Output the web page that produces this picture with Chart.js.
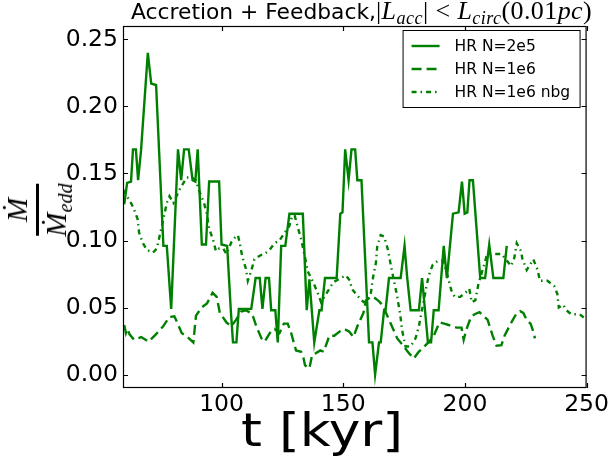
<!DOCTYPE html>
<html><head><meta charset="utf-8">
<script src="https://cdn.jsdelivr.net/npm/chart.js@4.4.1/dist/chart.umd.min.js"></script>
<style>
html,body{margin:0;padding:0;background:#fff;}
#wrap{position:relative;width:612px;height:456px;overflow:hidden;background:#fff;}
#c{position:absolute;left:0;top:0;}
#title{position:absolute;left:131px;top:-3px;white-space:nowrap;font-family:'DejaVu Sans';font-size:21.8px;line-height:28px;color:#000;}
.m{font-family:'Liberation Serif',serif;font-size:26px;letter-spacing:0.4px;}
.m sub{font-size:0.7em;vertical-align:-0.3em;line-height:0;}
#xlab{position:absolute;left:241px;top:402px;white-space:nowrap;font-family:'DejaVu Sans';font-size:46px;line-height:56px;color:#000;transform:scaleX(1.16);transform-origin:0 0;}
#ylab{position:absolute;left:37px;top:210px;transform:translate(-50%,-50%) rotate(-90deg);display:flex;flex-direction:column;align-items:center;font-family:'Liberation Serif',serif;font-size:29px;line-height:1;color:#000;}
#ylab .bar{width:52px;height:3px;background:#000;margin:4px 0 3px 0;}
#ylab sub{font-size:0.7em;vertical-align:-0.3em;line-height:0;}
</style></head>
<body>
<div id="wrap">
<canvas id="c" width="612" height="456"></canvas>
<div id="title">Accretion + Feedback,<span class="m">|<i>L</i><sub><i>acc</i></sub>| &lt; <i>L</i><sub><i>circ</i></sub>(0.01<i>pc</i>)</span></div>
<div id="xlab">t [kyr]</div>
<div id="ylab"><div><i>Ṁ</i></div><div class="bar"></div><div><i>Ṁ</i><sub><i>edd</i></sub></div></div>
</div>
<script>
const seriesLabels = ['HR N=2e5', 'HR N=1e6', 'HR N=1e6 nbg'];
const xTicks = [100, 150, 200, 250];
const yTicks = [0, 0.05, 0.10, 0.15, 0.20, 0.25];

const solidT = [60,61.2,62.8,63.6,64.8,65.7,66.9,69.7,71.1,73.1,76.1,77.5,79.3,82.1,83.4,84.6,86.5,88.1,89.2,90.2,91.9,93.6,94.9,99.0,100.0,102.3,103.8,104.7,106.1,107.1,112.2,114,115.7,116.8,118.1,119.5,120.4,122.1,123.1,124.5,126.2,127.9,133.4,135,136.1,138.1,140.2,141.1,142.5,147.3,148.8,149.7,150.8,152.2,153.4,154.9,155.8,157.5,160.6,162,163.1,164.7,165.4,166.8,167.4,168.8,173.6,175.2,176.3,177.7,181.1,182.4,184.8,186.1,187.2,189.2,191.3,192.6,195.1,197.4,198.8,199.9,201.0,201.9,203.3,206.3,208.3,210,211.7,215.8,217.2];
const solidV = [0.127,0.143,0.144,0.168,0.168,0.145,0.167,0.240,0.217,0.216,0.096,0.096,0.049,0.168,0.145,0.168,0.168,0.145,0.144,0.168,0.097,0.097,0.144,0.144,0.097,0.096,0.048,0.024,0.024,0.049,0.049,0.072,0.072,0.049,0.072,0.072,0.048,0.048,0.024,0.096,0.096,0.120,0.120,0.048,0.071,0.024,0.048,0.048,0.072,0.072,0.120,0.121,0.168,0.145,0.168,0.168,0.145,0.145,0.024,0.024,0.000,0.024,0.024,0.048,0.048,0.072,0.072,0.096,0.072,0.048,0.048,0.072,0.024,0.024,0.048,0.048,0.096,0.072,0.120,0.121,0.144,0.120,0.121,0.145,0.145,0.072,0.072,0.097,0.072,0.072,0.096];

const dashT = [60,60.7,61.3,62.2,64,67,70,73,76,78.6,80.6,82,83.6,86,88.4,89.5,91.8,94,96.3,98,99.3,102,104,106,108,110,112,113,114.3,116.4,117.7,120.2,121.8,123.8,125.6,127.2,128.6,130.6,132.7,133.6,134.3,136.1,137.2,138.8,140.6,142,144.3,146.3,148.4,150.4,152.5,154.2,155.8,158.3,159.4,161.3,162.7,164.5,166.1,168.8,172.2,174.9,177,179,181,183.1,185,187.2,189.6,191.5,193.3,196.6,198.6,199.5,200.5,202.5,204,206,207.5,209.3,211.4,213,215,216.3,219.1,221,222.7,224,225.6,227,228.1,228.8];
const dashV = [0.037,0.031,0.034,0.030,0.026,0.028,0.0245,0.030,0.036,0.043,0.0435,0.038,0.031,0.028,0.024,0.044,0.050,0.053,0.061,0.058,0.046,0.039,0.036,0.041,0.047,0.048,0.046,0.043,0.036,0.027,0.0245,0.032,0.034,0.031,0.038,0.038,0.031,0.018,0.017,0.013,0.007,0.0046,0.0145,0.016,0.018,0.017,0.029,0.029,0.032,0.034,0.032,0.028,0.036,0.046,0.0555,0.058,0.0575,0.055,0.052,0.041,0.027,0.021,0.016,0.012,0.017,0.0205,0.024,0.029,0.039,0.038,0.037,0.035,0.035,0.026,0.033,0.043,0.045,0.0465,0.044,0.041,0.029,0.0215,0.022,0.029,0.039,0.045,0.0473,0.046,0.040,0.038,0.032,0.027];

const dotT = [59.5,60.5,62.5,63.9,65.5,66.1,67.7,69.3,71.8,73.4,74.5,75.5,77.5,78.6,80.2,83,85.7,87.7,89.5,90.8,92.8,93.9,94.9,96.6,97.7,99,100.7,102,104.1,105.4,106.7,107.5,108.5,110,110.8,112.3,113.5,116,117.7,119.7,121.8,123.8,126,127.9,128.6,130,131.3,132.7,133.4,134.8,135.4,136.8,138.1,139.5,140.9,142.9,144.3,146,149,151.1,152.8,153.5,155.3,157.2,158.4,160,161.3,162.3,163.4,164,165.4,166.8,168.4,169.5,170.4,172,173.4,174.2,175.6,177.7,179.7,181.1,182.1,183.1,184.1,185.2,186.8,189,191,192.7,194.4,195.8,198.1,200.8,201.8,202.8,204.3,205.6,207.6,209,211.7,215.1,217.2,219,220.3,221.3,223.1,223.6,225.4,228.1,229.9,230.8,233.9,236.7,238,238.6,240.4,241.7,243.7,247.2,249.2,250];
const dotV = [0.138,0.135,0.129,0.124,0.116,0.106,0.098,0.093,0.091,0.094,0.103,0.111,0.128,0.133,0.128,0.139,0.147,0.147,0.145,0.137,0.128,0.120,0.109,0.100,0.092,0.094,0.094,0.090,0.099,0.102,0.104,0.098,0.088,0.079,0.070,0.078,0.086,0.089,0.090,0.093,0.098,0.100,0.106,0.111,0.116,0.119,0.110,0.101,0.095,0.083,0.077,0.072,0.067,0.061,0.054,0.060,0.064,0.069,0.072,0.074,0.070,0.064,0.060,0.056,0.054,0.055,0.060,0.073,0.083,0.096,0.104,0.103,0.093,0.082,0.074,0.060,0.045,0.033,0.021,0.021,0.027,0.036,0.046,0.055,0.065,0.074,0.082,0.085,0.085,0.075,0.063,0.058,0.058,0.062,0.064,0.054,0.0555,0.068,0.080,0.089,0.090,0.090,0.085,0.081,0.087,0.098,0.092,0.0865,0.078,0.086,0.078,0.070,0.070,0.066,0.060,0.050,0.052,0.048,0.045,0.045,0.042,0.042];

const pts = (T, V) => T.map((t, i) => ({x: t, y: V[i]}));
const GREEN = '#008000';

const framePlugin = {
  id: 'frame',
  afterDatasetsDraw(chart) {
    const {ctx, chartArea: a, scales: {x, y}} = chart;
    ctx.save();
    ctx.strokeStyle = '#000';
    ctx.lineWidth = 1.2;
    ctx.setLineDash([]);
    ctx.beginPath();
    xTicks.forEach(v => {
      const px = Math.round(x.getPixelForValue(v)) + 0.5;
      ctx.moveTo(px, a.bottom); ctx.lineTo(px, a.bottom - 5);
      ctx.moveTo(px, a.top); ctx.lineTo(px, a.top + 5);
    });
    yTicks.forEach(v => {
      const py = Math.round(y.getPixelForValue(v)) + 0.5;
      ctx.moveTo(a.left, py); ctx.lineTo(a.left + 5, py);
      ctx.moveTo(a.right, py); ctx.lineTo(a.right - 5, py);
    });
    ctx.stroke();
    ctx.strokeRect(a.left + 0.5, a.top + 0.5, a.right - a.left - 1, a.bottom - a.top - 1);

    // legend
    const lx = a.right - 184, ly = a.top + 4, lw = 177, lh = 77;
    ctx.fillStyle = '#fff';
    ctx.fillRect(lx, ly, lw, lh);
    ctx.lineWidth = 1;
    ctx.strokeRect(lx + 0.5, ly + 0.5, lw, lh);
    chart.data.datasets.forEach((ds, i) => {
      const ry = ly + 16 + i * 23;
      ctx.save();
      ctx.strokeStyle = ds.borderColor;
      ctx.lineWidth = ds.borderWidth;
      ctx.setLineDash(ds.borderDash || []);
      ctx.beginPath();
      ctx.moveTo(lx + 9, ry); ctx.lineTo(lx + 37, ry);
      ctx.stroke();
      ctx.restore();
      ctx.fillStyle = '#000';
      ctx.font = '15.5px "DejaVu Sans"';
      ctx.textBaseline = 'middle';
      ctx.textAlign = 'left';
      ctx.fillText(ds.label, lx + 52, ry + 1);
    });
    ctx.restore();
  }
};

new Chart(document.getElementById('c'), {
  type: 'line',
  data: {
    datasets: [
      {label: seriesLabels[0], data: pts(solidT, solidV), borderColor: GREEN, borderWidth: 2.4, pointRadius: 0, tension: 0, fill: false},
      {label: seriesLabels[1], data: pts(dashT, dashV), borderColor: GREEN, borderWidth: 2.4, borderDash: [10, 5], pointRadius: 0, tension: 0, fill: false},
      {label: seriesLabels[2], data: pts(dotT, dotV), borderColor: GREEN, borderWidth: 2.4, borderDash: [5, 4, 1.5, 4], pointRadius: 0, tension: 0, fill: false}
    ]
  },
  options: {
    responsive: false,
    animation: false,
    devicePixelRatio: 1,
    layout: {padding: {left: 0, top: 26, right: 23, bottom: 0}},
    plugins: {legend: {display: false}, title: {display: false}, tooltip: {enabled: false}},
    scales: {
      x: {
        type: 'linear', min: 59.5, max: 250,
        afterBuildTicks: s => { s.ticks = xTicks.map(v => ({value: v})); },
        afterFit: s => { s.height = 68; },
        grid: {display: false, drawTicks: false},
        border: {display: false},
        ticks: {font: {family: 'DejaVu Sans', size: 23.5}, color: '#000', padding: 3, maxRotation: 0, autoSkip: false},
        title: {display: false}
      },
      y: {
        type: 'linear', min: -0.01, max: 0.26,
        afterBuildTicks: s => { s.ticks = yTicks.map(v => ({value: v})); },
        afterFit: s => { s.width = 123; },
        grid: {display: false, drawTicks: false},
        border: {display: false},
        ticks: {font: {family: 'DejaVu Sans', size: 23.5}, color: '#000', padding: 5, autoSkip: false, callback: v => v.toFixed(2)}
      }
    }
  },
  plugins: [framePlugin]
});
</script>
</body></html>
